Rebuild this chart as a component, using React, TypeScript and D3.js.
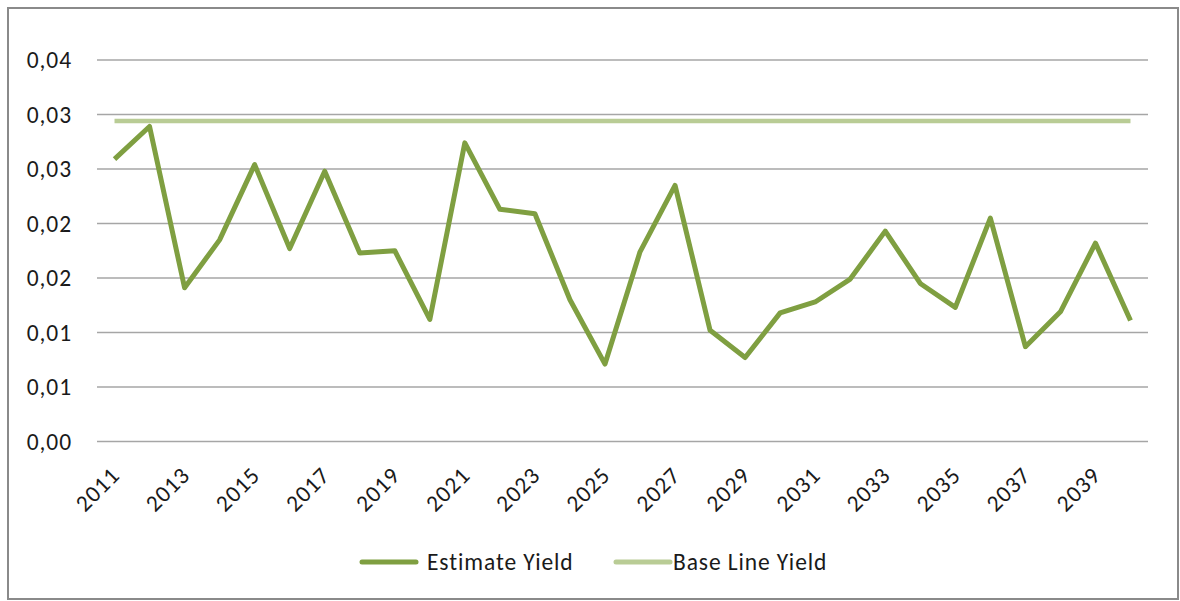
import React from "react";
import * as d3 from "d3";

// Yield series, 2011–2040
const years: string[] = d3.range(2011, 2041).map((y) => String(y));
const estimateYield: number[] = [
  0.0259, 0.0289, 0.0141, 0.0185, 0.0254, 0.0177, 0.0248, 0.0173, 0.0175, 0.0112,
  0.0274, 0.0213, 0.0209, 0.013, 0.0071, 0.0174, 0.0235, 0.0102, 0.0077, 0.0118,
  0.0128, 0.0149, 0.0193, 0.0145, 0.0123, 0.0205, 0.0087, 0.0119, 0.0182, 0.0111,
];
const baseLineYield: number[] = years.map(() => 0.0294);
const yTicks: number[] = [0, 0.005, 0.01, 0.015, 0.02, 0.025, 0.03, 0.035];
const seriesNames: string[] = ["Estimate Yield", "Base Line Yield"];
const seriesColors: string[] = ["#7f9f41", "#b9cc95"];

const W = 1180;
const H = 601;
const FONT = "Carlito, Lato, 'Open Sans', sans-serif";
const FS = 23.5;
const LS = 0.9;

export default function App() {
  const margin = { left: 97, right: 1148, top: 60, bottom: 441.5 };
  const x = d3.scaleBand<string>().domain(years).range([margin.left, margin.right]);
  const y = d3.scaleLinear().domain([0, 0.035]).range([margin.bottom, margin.top]);
  const cx = (d: string) => (x(d) ?? 0) + x.bandwidth() / 2;

  const line = d3
    .line<number>()
    .x((_, i) => cx(years[i]))
    .y((v) => y(v));

  const fmt = (v: number) => d3.format(".2f")(v + 1e-9).replace(".", ",");

  const legendItems = [
    { name: seriesNames[0], color: seriesColors[0], x0: 362, x1: 416, tx: 427 },
    { name: seriesNames[1], color: seriesColors[1], x0: 616, x1: 670, tx: 673 },
  ];

  return (
    <svg
      width={W}
      height={H}
      style={{ position: "absolute", left: 0, top: 0, background: "#fff" }}
      fontFamily={FONT}
    >
      <rect x={8} y={8} width={1170} height={591} fill="#fff" stroke="#8a8a8a" strokeWidth={2} />

      {/* horizontal gridlines and value labels */}
      {yTicks.map((t) => (
        <g key={t}>
          <line
            x1={margin.left}
            x2={margin.right}
            y1={y(t)}
            y2={y(t)}
            stroke="#a6a6a6"
            strokeWidth={1.5}
          />
          <text
            x={72}
            y={y(t)}
            textAnchor="end"
            dominantBaseline="central"
            fontSize={FS}
            letterSpacing={LS}
            fill="#1a1a1a"
          >
            {fmt(t)}
          </text>
        </g>
      ))}

      {/* category labels, every second year */}
      {years.map((yr, i) =>
        i % 2 === 0 ? (
          <text
            key={yr}
            transform={`translate(${cx(yr) + 1},${471}) rotate(-45)`}
            textAnchor="end"
            dominantBaseline="central"
            fontSize={FS}
            letterSpacing={LS}
            fill="#1a1a1a"
          >
            {yr}
          </text>
        ) : null
      )}

      <path
        d={line(baseLineYield) ?? ""}
        fill="none"
        stroke={seriesColors[1]}
        strokeWidth={4.5}
      />
      <path
        d={line(estimateYield) ?? ""}
        fill="none"
        stroke={seriesColors[0]}
        strokeWidth={5}
        strokeLinejoin="round"
      />

      {/* legend */}
      {legendItems.map((it) => (
        <g key={it.name}>
          <line
            x1={it.x0}
            x2={it.x1}
            y1={562}
            y2={562}
            stroke={it.color}
            strokeWidth={5}
            strokeLinecap="round"
          />
          <text
            x={it.tx}
            y={562}
            dominantBaseline="central"
            fontSize={FS}
            letterSpacing={LS}
            fill="#1a1a1a"
          >
            {it.name}
          </text>
        </g>
      ))}
    </svg>
  );
}
